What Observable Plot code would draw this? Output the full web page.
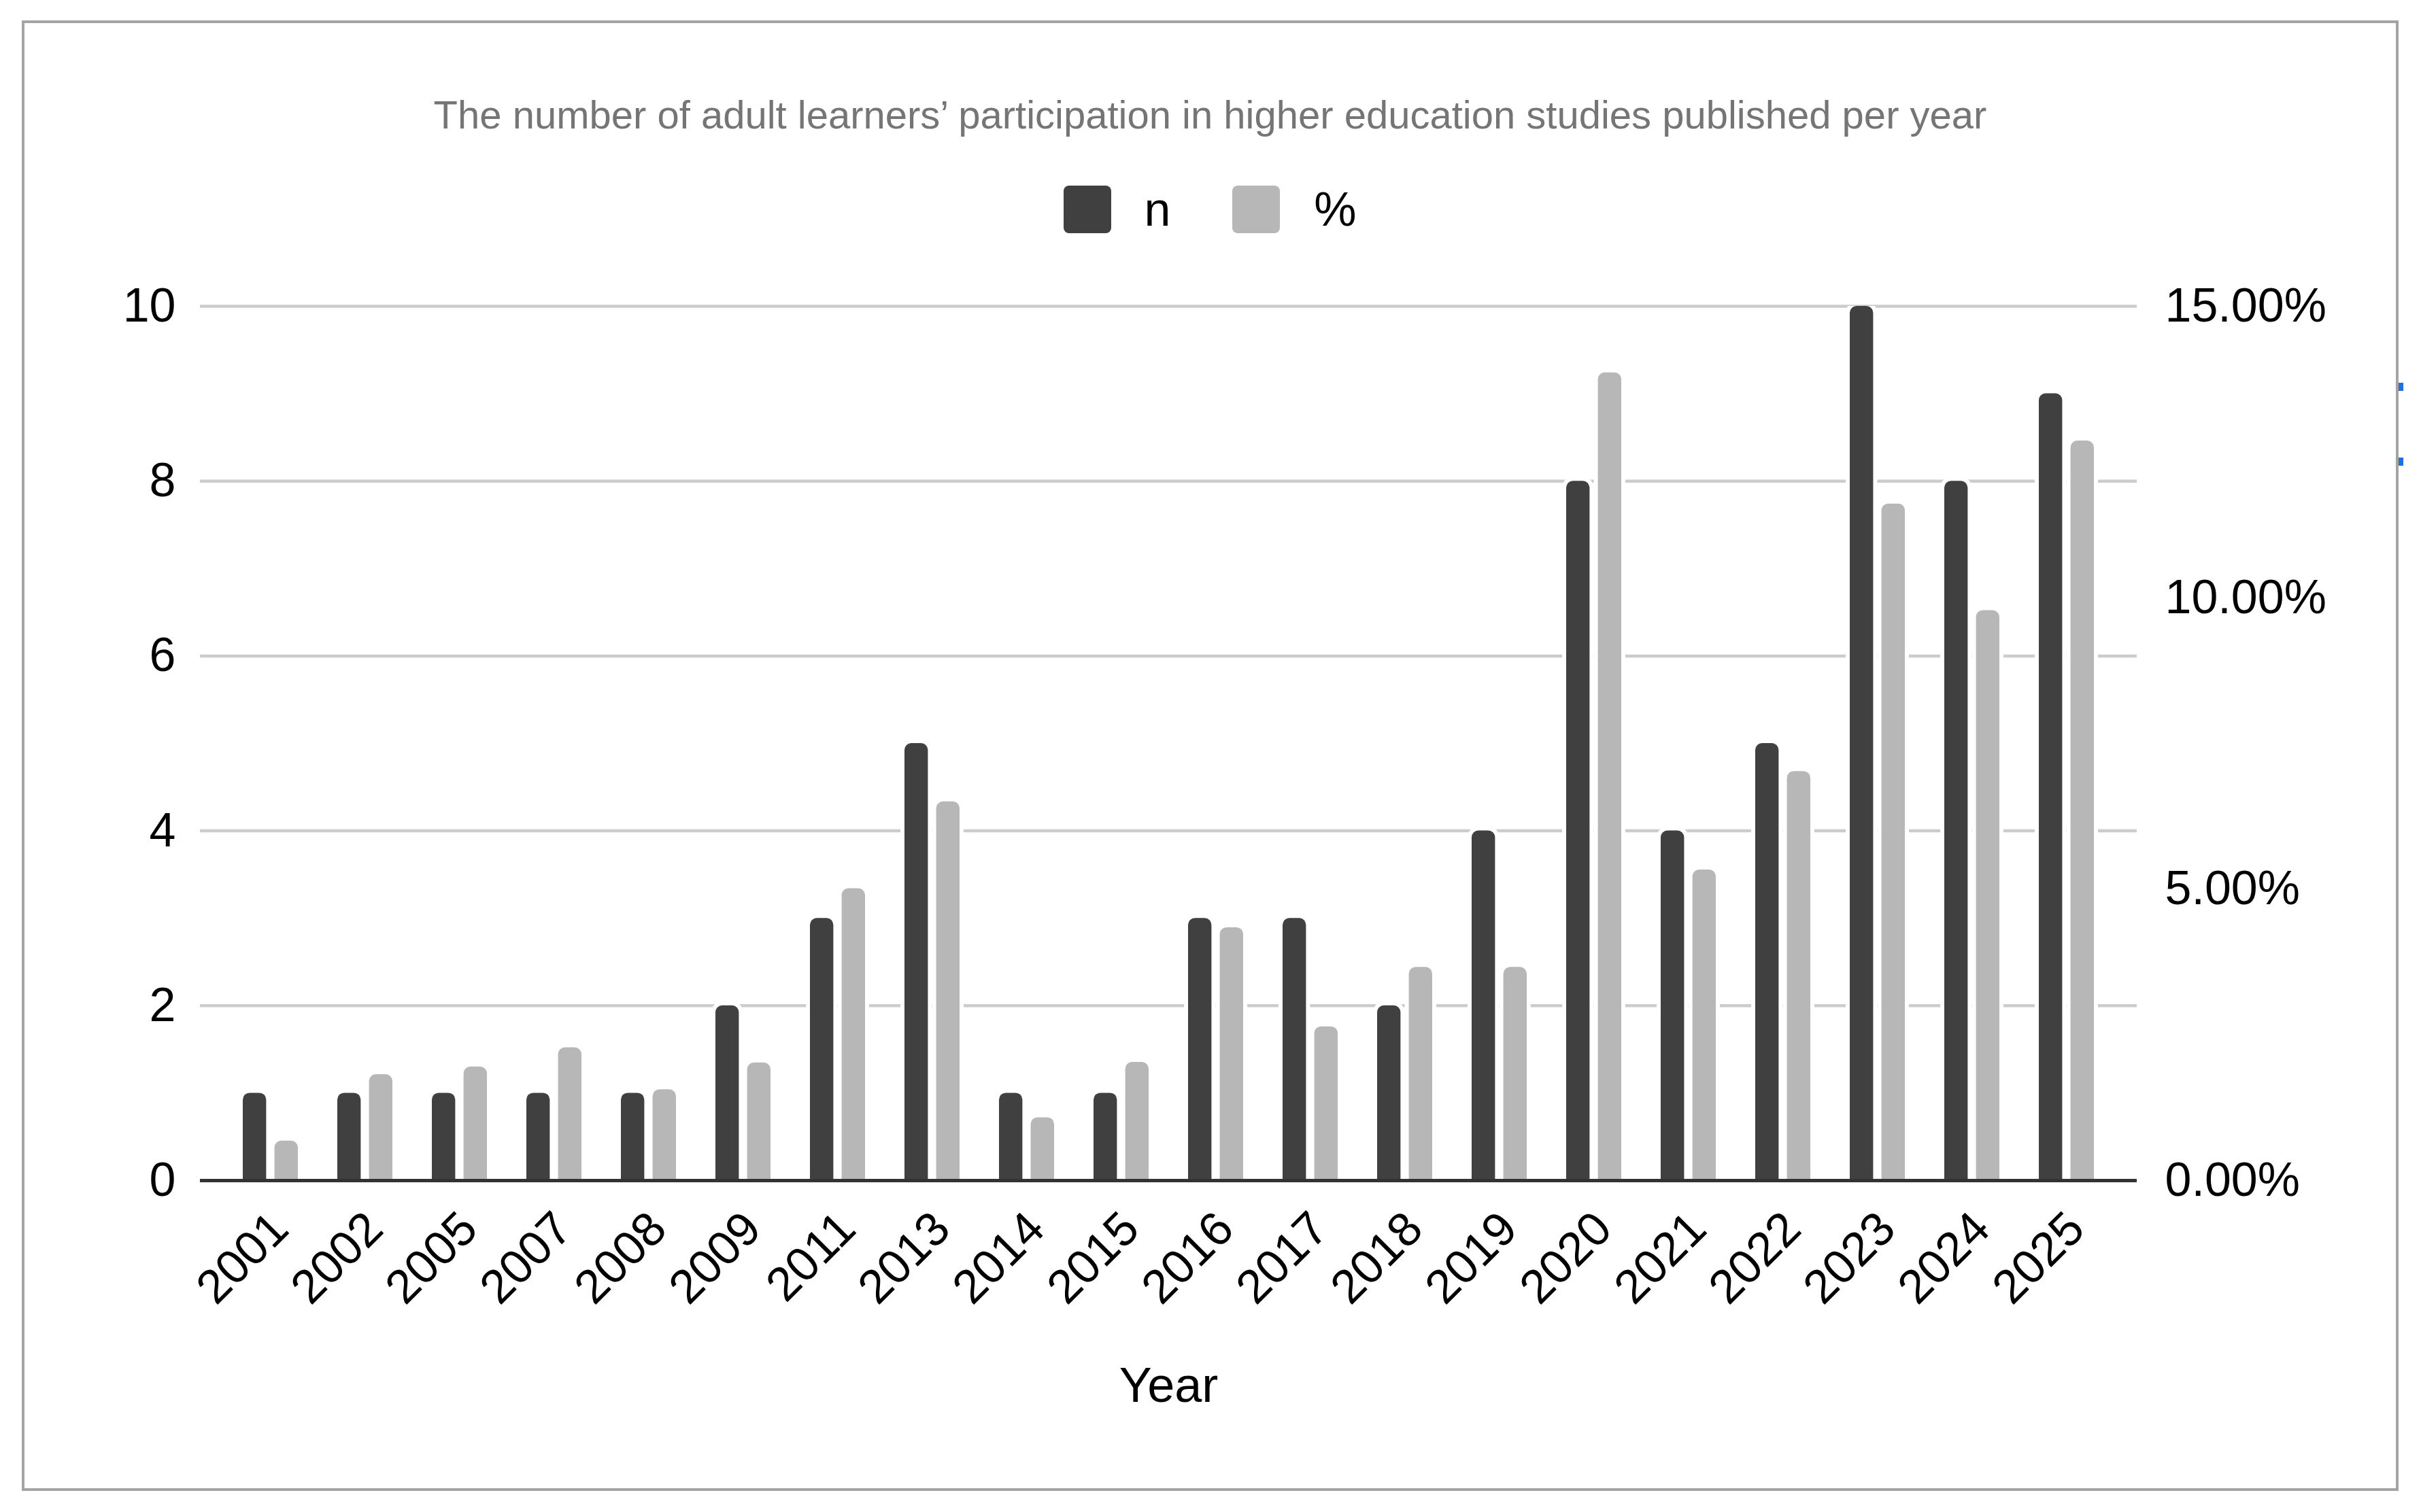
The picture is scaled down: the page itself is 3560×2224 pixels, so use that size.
<!DOCTYPE html>
<html>
<head>
<meta charset="utf-8">
<script src="https://cdn.jsdelivr.net/npm/d3@7"></script>
<script src="https://cdn.jsdelivr.net/npm/@observablehq/plot@0.6"></script>
<style>
  html, body { margin: 0; padding: 0; background: #ffffff; }
  body { width: 3560px; height: 2224px; position: relative; overflow: hidden;
         font-family: "Liberation Sans", Arial, Helvetica, sans-serif; color: #000; }
  #box { position: absolute; left: 32px; top: 30px; width: 3495px; height: 2163px;
         border: 4px solid #a4a4a4; box-sizing: border-box; }
  #title { position: absolute; left: 32px; width: 3495px; top: 140px; text-align: center;
           font-size: 58px; line-height: 58px; color: #757575; white-space: nowrap; }
  #legend { position: absolute; left: 32px; width: 3495px; top: 272px; height: 72px;
            display: flex; justify-content: center; align-items: center;
            font-size: 70px; line-height: 70px; color: #000; }
  .sw { width: 70px; height: 70px; border-radius: 8px; display: inline-block; }
  #chart { position: absolute; left: 0; top: 360px; }
  .mark { position: absolute; left: 3527px; width: 7px; height: 12px; background: #1a73e8; }
</style>
</head>
<body>
<div id="box"></div>
<div class="mark" style="top:563px"></div>
<div class="mark" style="top:673px"></div>
<div id="title"></div>
<div id="legend"></div>
<div id="chart"></div>
<script>
// ---- data ----
const titleText = "The number of adult learners’ participation in higher education studies published per year";
const years = ["2001","2002","2005","2007","2008","2009","2011","2013","2014","2015",
               "2016","2017","2018","2019","2020","2021","2022","2023","2024","2025"];
const nValues = [1,1,1,1,1,2,3,5,1,1,3,3,2,4,8,4,5,10,8,9];
const pctValues = [0.68,1.82,1.95,2.28,1.56,2.02,5.01,6.50,1.08,2.03,
                   4.34,2.64,3.66,3.66,13.86,5.33,7.02,11.61,9.78,12.69];
const seriesNames = ["n", "%"];
const seriesColors = ["#404040", "#b7b7b7"];
const leftTicks = [0, 2, 4, 6, 8, 10];
const rightTicks = [0, 5, 10, 15];
const xLabel = "Year";

// ---- scales shared by both axes ----
const nMax = 10, pctMax = 15;
const pctToN = p => p * nMax / pctMax;

const W = 3560, H = 1740, mL = 294, mR = 418, mT = 90, mB = 364;
const xOpts = {type: "band", domain: years, paddingInner: 0.42, paddingOuter: 0.40};
const xScale = Plot.scale({x: {...xOpts, range: [mL, W - mR]}});
const bw = xScale.bandwidth;
const barW = bw * 34 / 80;
const inset = bw - barW;

const nData = years.map((year, i) => ({year, value: nValues[i]}));
const pData = years.map((year, i) => ({year, value: pctToN(pctValues[i])}));

// ---- title & legend ----
document.getElementById("title").textContent = titleText;
const legend = document.getElementById("legend");
const gaps = [[48, 91], [50, 0]];
seriesNames.forEach((name, i) => {
  const sw = document.createElement("span");
  sw.className = "sw";
  sw.style.background = seriesColors[i];
  sw.style.marginRight = gaps[i][0] + "px";
  const lab = document.createElement("span");
  lab.textContent = name;
  lab.style.marginRight = gaps[i][1] + "px";
  legend.appendChild(sw);
  legend.appendChild(lab);
});

// ---- chart ----
const barStyle = {x: "year", y: "value", rx: 10, insetBottom: -20, clip: true,
                  stroke: "white", strokeWidth: 12, paintOrder: "stroke"};

const chart = Plot.plot({
  width: W, height: H,
  marginLeft: mL, marginRight: mR, marginTop: mT, marginBottom: mB,
  style: {background: "transparent", fontFamily: "'Liberation Sans', Arial, sans-serif", color: "#000", overflow: "visible"},
  x: {...xOpts, axis: null},
  y: {domain: [0, nMax], axis: null},
  marks: [
    Plot.ruleY(leftTicks.filter(t => t > 0), {stroke: "#cccccc", strokeWidth: 4.5}),
    Plot.barY(nData, {...barStyle, fill: seriesColors[0], insetRight: inset}),
    Plot.barY(pData, {...barStyle, fill: seriesColors[1], insetLeft: inset}),
    Plot.ruleY([0], {stroke: "#333333", strokeWidth: 5}),
    Plot.axisY(leftTicks, {anchor: "left", tickSize: 0, tickPadding: 36, fontSize: 70, label: null,
      tickFormat: d3.format("d")}),
    Plot.axisY(rightTicks.map(pctToN), {anchor: "right", tickSize: 0, tickPadding: 41, fontSize: 70, label: null,
      tickFormat: v => (v * pctMax / nMax).toFixed(2) + "%"}),
    Plot.axisX({tickRotate: -45, tickSize: 0, tickPadding: 59, dx: 14, fontSize: 70, label: null}),
    Plot.text([xLabel], {text: d => d, frameAnchor: "bottom", dy: 325, fontSize: 72, fill: "#000"})
  ]
});
document.getElementById("chart").appendChild(chart);
</script>
</body>
</html>
